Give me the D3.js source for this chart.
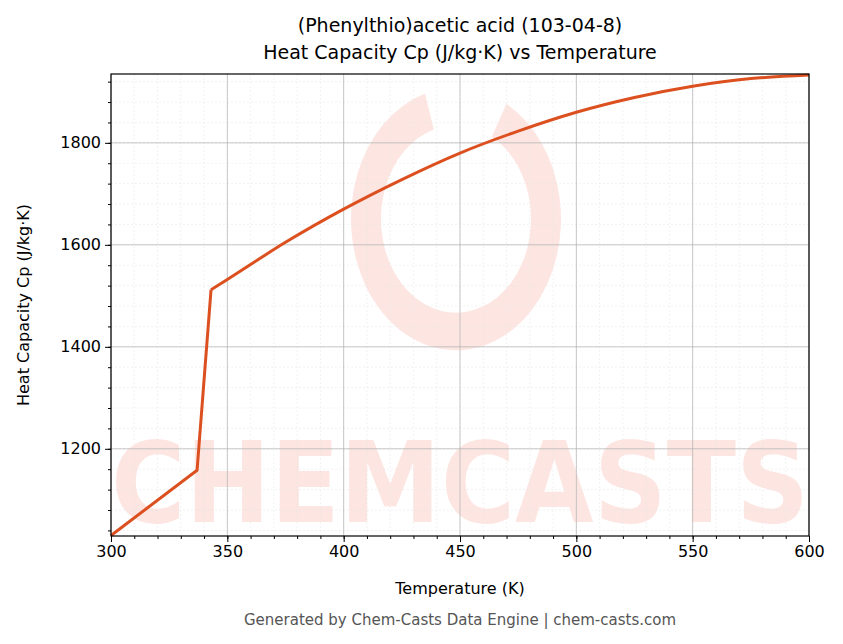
<!DOCTYPE html>
<html><head><meta charset="utf-8">
<script src="https://cdn.jsdelivr.net/npm/d3@7"></script>
<style>body{margin:0;background:#fff;font-family:"DejaVu Sans",sans-serif}</style>
</head><body>
<svg id="svg_main" width="843" height="644"></svg>
<script>
// values
var temps = [300, 337, 343, 350, 375, 400, 425, 450, 475, 500, 525, 550, 575, 600]
var cp = [1030, 1158, 1512, 1532, 1605, 1670, 1728, 1780, 1823, 1860, 1889, 1911, 1926, 1933]
var xTicks = [300, 350, 400, 450, 500, 550, 600]
var yTicks = [1200, 1400, 1600, 1800]

const margin = { top: 74, right: 34, bottom: 108, left: 111 };
const width = 843 - margin.left - margin.right,
      height = 644 - margin.top - margin.bottom;

var svg = d3.select("#svg_main")
svg.append("defs").append("clipPath").attr("id", "clip")
  .append("rect").attr("width", width).attr("height", height)
var g = svg.append("g").attr("transform", "translate(" + margin.left + "," + margin.top + ")")

var x = d3.scaleLinear().domain([300, 600]).range([0, width])
var y = d3.scaleLinear().domain([1029, 1935]).range([height, 0])

// watermark
var wm = g.append("g").attr("clip-path", "url(#clip)")
wm.append("text").attr("x", width / 2).attr("y", 448).attr("text-anchor", "middle")
  .attr("textLength", width).attr("lengthAdjust", "spacingAndGlyphs")
  .style("font-size", "112px").style("font-weight", "bold").style("fill", "#fde6e2")
  .text("CHEMCASTS")
wm.append("path").attr("d", d3.arc()({innerRadius: 75, outerRadius: 105, startAngle: 0.5, endAngle: 2 * Math.PI - 0.3}))
  .attr("transform", "translate(345,145) scale(1,1.25)")
  .style("fill", "#fde6e2")

// minor grid
var xMinor = d3.range(300, 601, 10), yMinor = d3.range(1040, 1935, 40)
g.selectAll(".xm").data(xMinor).enter().append("line")
  .attr("x1", d => x(d)).attr("x2", d => x(d)).attr("y1", 0).attr("y2", height)
  .style("stroke", "#e4e4e4").style("stroke-width", 0.5).style("stroke-dasharray", "2,2")
g.selectAll(".ym").data(yMinor).enter().append("line")
  .attr("y1", d => y(d)).attr("y2", d => y(d)).attr("x1", 0).attr("x2", width)
  .style("stroke", "#e4e4e4").style("stroke-width", 0.5).style("stroke-dasharray", "2,2")
// major grid
g.selectAll(".xg").data(xTicks).enter().append("line")
  .attr("x1", d => x(d)).attr("x2", d => x(d)).attr("y1", 0).attr("y2", height)
  .style("stroke", "#b0b0b0").style("stroke-width", 0.7)
g.selectAll(".yg").data(yTicks).enter().append("line")
  .attr("y1", d => y(d)).attr("y2", d => y(d)).attr("x1", 0).attr("x2", width)
  .style("stroke", "#b0b0b0").style("stroke-width", 0.7)

// straight segments up to the melt, smooth curve after
var lin = d3.line().x(d => x(d[0])).y(d => y(d[1]))
var smooth = d3.line().x(d => x(d[0])).y(d => y(d[1])).curve(d3.curveMonotoneX)
var pts = temps.map((t, i) => [t, cp[i]])
g.append("path").attr("d", lin(pts.slice(0, 3)))
  .style("fill", "none").style("stroke", "#dc5020").style("stroke-width", 3).style("stroke-linejoin", "round")
g.append("path").attr("d", smooth(pts.slice(2)))
  .style("fill", "none").style("stroke", "#dc5020").style("stroke-width", 3)

g.append("g").attr("transform", "translate(0," + height + ")")
  .call(d3.axisBottom(x).tickValues(xTicks).tickSize(6).tickPadding(4).tickFormat(d3.format("d")))
g.append("g").attr("transform", "translate(0," + height + ")")
  .call(d3.axisBottom(x).tickValues(xMinor).tickSize(3).tickFormat(""))
g.append("g").call(d3.axisLeft(y).tickValues(yTicks).tickSize(6).tickPadding(4).tickFormat(d3.format("d")))
g.append("g").call(d3.axisLeft(y).tickValues(yMinor).tickSize(3).tickFormat(""))
svg.selectAll(".domain").remove()
svg.selectAll(".tick line").style("stroke", "#000")
svg.selectAll(".tick text").style("font-size", "16px").style("fill", "#000").style("font-family", "DejaVu Sans")
g.append("rect").attr("width", width).attr("height", height)
  .style("fill", "none").style("stroke", "#000").style("stroke-width", 1.2)

var cx = margin.left + width / 2
svg.append("text").attr("x", cx).attr("y", 32).attr("text-anchor", "middle")
  .style("font-size", "19px").text("(Phenylthio)acetic acid (103-04-8)")
svg.append("text").attr("x", cx).attr("y", 59).attr("text-anchor", "middle")
  .style("font-size", "19px").text("Heat Capacity Cp (J/kg·K) vs Temperature")
svg.append("text").attr("x", cx).attr("y", 594).attr("text-anchor", "middle")
  .style("font-size", "16px").text("Temperature (K)")
svg.append("text").attr("transform", "translate(29," + (margin.top + height / 2) + ") rotate(-90)")
  .attr("text-anchor", "middle").style("font-size", "16px").text("Heat Capacity Cp (J/kg·K)")
svg.append("text").attr("x", cx).attr("y", 625).attr("text-anchor", "middle")
  .style("font-size", "15px").style("fill", "#555").text("Generated by Chem-Casts Data Engine | chem-casts.com")
</script>
</body></html>
